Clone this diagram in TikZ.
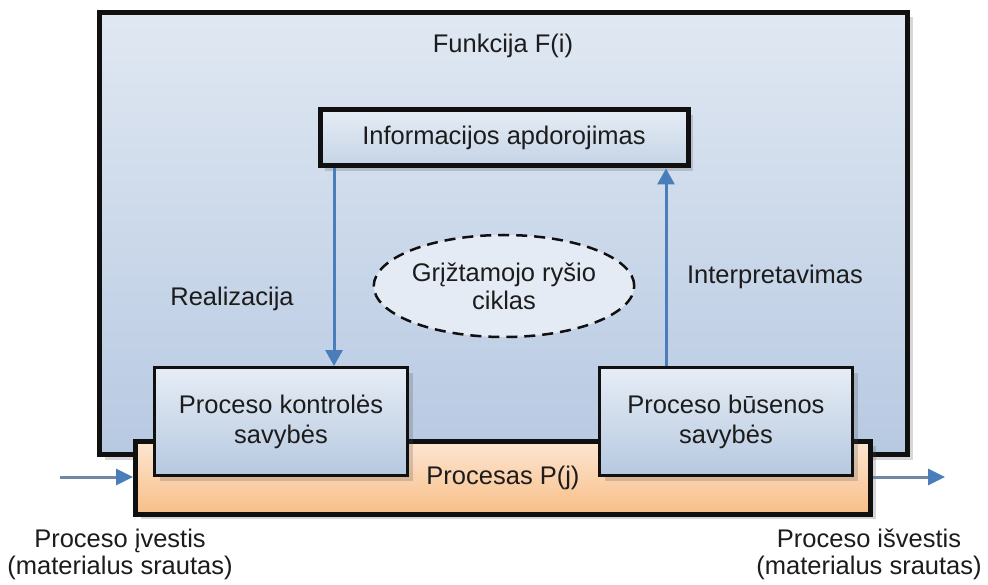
\documentclass[tikz,border=0pt]{standalone}
\usepackage{fontspec}
\setmainfont{Liberation Sans}
\usetikzlibrary{arrows.meta,shapes.geometric,shadows}
\definecolor{txt}{HTML}{1C1C1C}
\definecolor{bigL}{HTML}{E0E8F2}
\definecolor{bigD}{HTML}{B7C9E2}
\definecolor{boxL}{HTML}{E6EDF5}
\definecolor{boxD}{HTML}{B6C8E0}
\definecolor{orL}{HTML}{FDE6D2}
\definecolor{orD}{HTML}{F8BE88}
\definecolor{arrB}{HTML}{4A7EBB}
\definecolor{arrG}{HTML}{7088A4}
\definecolor{brd}{HTML}{101010}
\tikzset{
  lbl/.style={font=\fontsize{25.5}{30}\selectfont, text=txt, align=center, inner sep=0pt},
  shad/.style={drop shadow={shadow xshift=5pt, shadow yshift=-5pt, opacity=0.22, fill=black!70}},
  bigbox/.style={draw=brd, line width=5pt, rectangle, inner sep=0pt, top color=bigL, bottom color=bigD, shad},
  infobox/.style={draw=brd, line width=5pt, rectangle, inner sep=0pt, top color=boxL, bottom color=boxD!70!boxL, shad},
  propbox/.style={draw=brd, line width=3pt, rectangle, inner sep=0pt, top color=boxL, bottom color=boxD, shad, lbl},
  procbox/.style={draw=brd, line width=5pt, rectangle, inner sep=0pt, top color=orL, bottom color=orD, shad, lbl},
  cycle/.style={ellipse, draw=brd, line width=2.5pt, dash pattern=on 11pt off 7pt, fill=boxL!70!bigL, inner sep=0pt, lbl, font=\fontsize{25.5}{28}\selectfont},
  varr/.style={draw=arrB, line width=3pt, -{Triangle[length=16pt,width=17pt]}},
  harr/.style={draw=arrG, line width=3pt, -{Triangle[length=17pt,width=16pt,color=arrB]}},
}
\begin{document}
\begin{tikzpicture}[x=1pt,y=-1pt]
\useasboundingbox (0,0) rectangle (988,585);
\fill[white] (0,0) rectangle (988,585);
% big function box
\node[bigbox, minimum width=808pt, minimum height=442pt] (F) at (503.5,233.5) {};
\node[lbl] (Ft) at (503,46) {Funkcija F(i)};
% information box
\node[infobox, minimum width=368pt, minimum height=56pt, lbl] (info) at (504,138) {Informacijos apdorojimas};
% feedback cycle
\node[cycle, minimum width=238pt, minimum height=102pt] (cyc) at (504,286) {Grįžtamojo ryšio\\ciklas};
% labels of the arrows
\node[lbl] (real) at (232,299) {Realizacija};
\node[lbl] (interp) at (775,277) {Interpretavimas};
% process box
\node[procbox, minimum width=735pt, minimum height=73pt] (proc) at (503,477.5) {Procesas P(j)};
% property boxes
\node[propbox, minimum width=253pt, minimum height=108pt] (ctrl) at (281,421.5) {Proceso kontrolės\\savybės};
\node[propbox, minimum width=253pt, minimum height=108pt] (state) at (726,421.5) {Proceso būsenos\\savybės};
% vertical arrows
\coordinate (la) at (334,0);
\coordinate (ra) at (666,0);
\draw[varr] (la |- info.south) -- (la |- ctrl.north);
\draw[varr] (ra |- state.north) -- (ra |- info.south);
% input / output arrows
\coordinate (inS) at (60,477);
\coordinate (outE) at (945,477);
\draw[harr] (inS) -- (proc.west |- inS);
\draw[harr] (proc.east |- outE) -- (outE);
% bottom labels
\node[lbl, font=\fontsize{25.5}{27}\selectfont] (inl) at (120,554) {Proceso įvestis\\(materialus srautas)};
\node[lbl, font=\fontsize{25.5}{27}\selectfont] (outl) at (869,554) {Proceso išvestis\\(materialus srautas)};
\end{tikzpicture}
\end{document}
